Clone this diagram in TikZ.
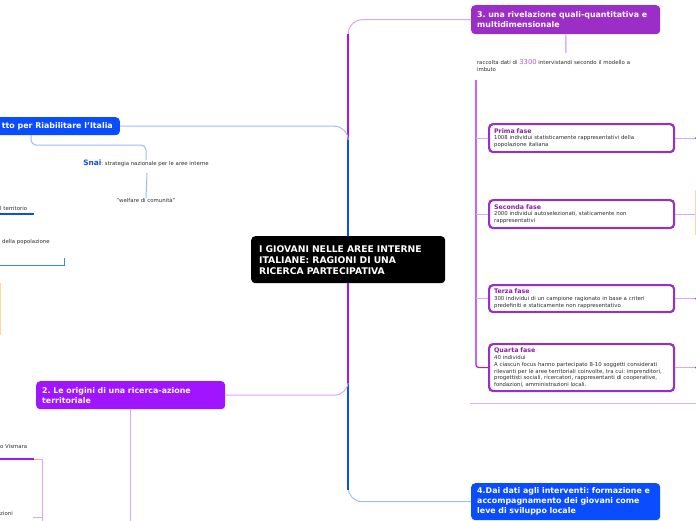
\documentclass[tikz,border=0pt]{standalone}
\usepackage{fontspec}
\setmainfont{DejaVu Sans}
\usetikzlibrary{calc}
\definecolor{mblue}{RGB}{10,76,255}
\definecolor{lblue}{RGB}{160,185,255}
\definecolor{sblue}{RGB}{70,130,230}
\definecolor{mpurp}{RGB}{156,46,200}
\definecolor{mviol}{RGB}{160,20,255}
\definecolor{lviol}{RGB}{218,165,255}
\definecolor{lpurp}{RGB}{220,180,240}
\definecolor{ptitle}{RGB}{140,30,165}
\definecolor{num}{RGB}{180,90,205}
\definecolor{txt}{RGB}{45,45,45}
\definecolor{lorange}{RGB}{255,215,150}
\newcommand\ptlfont{\color{ptitle}\bfseries\fontsize{6.3}{7.6}\selectfont}
\frenchspacing
\begin{document}
\begin{tikzpicture}[x=1pt,y=-1pt,
  box/.style={rounded corners=4pt, anchor=north west, inner ysep=0pt, align=left, text=white,
    font=\bfseries\fontsize{7.9}{9.9}\selectfont},
  phase/.style={draw=mpurp, line width=2.2pt, fill=white, rounded corners=4pt, anchor=north west,
    text width=175pt, inner xsep=5pt, inner ysep=0pt, align=left, text=txt,
    font=\fontsize{5.4}{6.8}\selectfont},
  small/.style={font=\fontsize{5.4}{7}\selectfont, text=txt, inner sep=0pt, align=left},
  stem/.style={line width=2pt},
  twig/.style={line width=1pt, rounded corners=14pt},
  dot/.style={circle, fill=mviol, inner sep=0pt, minimum size=2.6pt}
]
\useasboundingbox (0,0) rectangle (696,520);
\clip (0,0) rectangle (696,520);

% ---------- nodes ----------
\node[box, fill=black, minimum height=47pt, text width=178pt, inner xsep=8pt,
  font=\bfseries\fontsize{9.2}{11}\selectfont] (c) at (251,236)
  {I GIOVANI NELLE AREE INTERNE\\ITALIANE: RAGIONI DI UNA\\RICERCA PARTECIPATIVA};

\node[box, fill=mpurp, minimum height=29pt, text width=177pt, inner xsep=6pt] (n3) at (471,5)
  {3. una rivelazione quali-quantitativa e\\multidimensionale};

\node[box, fill=mviol, minimum height=28pt, text width=177pt, inner xsep=6pt] (n2) at (36,381)
  {2. Le origini di una ricerca-azione\\territoriale};

\node[box, fill=mblue, minimum height=37pt, text width=177pt, inner xsep=6pt] (n4) at (471,483)
  {4.Dai dati agli interventi: formazione e\\accompagnamento dei giovani come\\leve di sviluppo locale};

\node[box, fill=mblue, minimum height=18pt, inner xsep=7pt, anchor=north east] (n1) at (120,117)
  {tto per Riabilitare l'Italia};

\node[small, anchor=north, text width=178pt, inner xsep=6pt, inner ysep=6.5pt] (rac) at (566,53)
  {raccolta dati di {\color{num}\fontsize{6.8}{7}\selectfont 3300} intervistandi secondo il modello a\\imbuto};

\node[phase, minimum height=28pt] (p1) at (488,123)
  {{\ptlfont Prima fase}\\1008 individui statisticamente rappresentativi della\\popolazione italiana};
\node[phase, minimum height=28pt] (p2) at (488,199)
  {{\ptlfont Seconda fase}\\2000 individui autoselezionati, staticamente non\\rappresentativi};
\node[phase, minimum height=27pt] (p3) at (488,284)
  {{\ptlfont Terza fase}\\300 individui di un campione ragionato in base a criteri\\predefiniti e staticamente non rappresentativo};
\node[phase, minimum height=47pt] (p4) at (488,343)
  {{\ptlfont Quarta fase}\\40 individui\\A ciascun focus hanno partecipato 8-10 soggetti considerati\\rilevanti per le aree territoriali coinvolte, tra cui: imprenditori,\\progettisti sociali, ricercatori, rappresentanti di cooperative,\\fondazioni, amministrazioni locali.};

\node[small, anchor=north] (snai) at (146,160)
  {{\color{mblue}\bfseries\fontsize{7.4}{8}\selectfont Snai}: strategia nazionale per le aree interne};
\node[small, anchor=north] (wel) at (146,198) {"welfare di comunità"};

\node[small, anchor=west] (terr) at (0,208) {l territorio};
\node[small, anchor=west] (pop) at (2,242) {della popolazione};
\node[small, anchor=west] (vis) at (0,446) {o Vismara};
\node[small, anchor=west] (zio) at (0,513) {zioni};

\coordinate (n1s) at (31,135);
\coordinate (rs) at (476,80);
\coordinate (vs) at (34,459);

% ---------- main connectors ----------
\draw[lviol, twig] (c.north) |- (n3.west);
\draw[mviol, stem] (c.north) -- ($(c.north|-n3.west)+(0,14)$);
\draw[lblue, twig] (c.north) |- (n1.east);
\draw[mblue, stem] (c.north) -- ($(c.north|-n1.east)+(0,14)$);

\draw[lblue, twig] (c.south) |- (n4.west);
\draw[mblue, stem] (c.south) -- ($(c.south|-n4.west)+(0,-12)$);
\draw[lviol, twig] (c.south) |- (n2.east);
\draw[mviol, stem] (c.south) -- ($(c.south|-n2.east)+(0,-12)$);

% ---------- right subtree ----------
\draw[lpurp, line width=1.5pt] (n3.south) -- (rac.north);
\draw[mviol, line width=1.2pt, rounded corners=3pt] (rs) |- (p4.west);
\draw[lviol, line width=1pt] (rs|-p1.west) -- (p1.west);
\draw[lviol, line width=1pt] (rs|-p2.west) -- (p2.west);
\draw[lviol, line width=1pt] (rs|-p3.west) -- (p3.west);

\draw[lviol, line width=1pt] (p1.east) -- ++(21,0) node[dot]{};
\draw[lviol, line width=1pt] (p2.east) -- ++(25,0);
\draw[lviol, line width=1pt] (p3.east) -- ++(21,0) node[dot]{};
\draw[lviol, line width=1pt] (p4.east) -- ++(21,0) node[dot]{};
\draw[lorange, line width=1.5pt] (696,190) -- (696,235);
\draw[lpurp, line width=1pt] (470,403) -- (696,403);

% ---------- left subtree ----------
\draw[lblue, line width=1pt, rounded corners=5pt] (n1s) |- ++(60,10) -| (snai.north);
\draw[lblue, line width=1pt] ($(snai.south)+(1,6)$) -- (wel.north);
\draw[mblue, line width=2.5pt] (0,214) -- (34,214);
\draw[sblue, line width=1pt] (0,265) -- (64,265) -- (64,258);
\draw[lorange, line width=1.5pt] (0.5,283) -- (0.5,335);

% ---------- bottom-left ----------
\draw[lviol, line width=1pt] (n2.south) -- ++(0,120);
\draw[mviol, line width=2.5pt] (0,459) -- (vs);
\draw[lviol, line width=1pt] (vs) -- (42,459) -- (42,525);
\draw[lviol, line width=1pt] (33,517) -- (42,517);
\end{tikzpicture}
\end{document}
